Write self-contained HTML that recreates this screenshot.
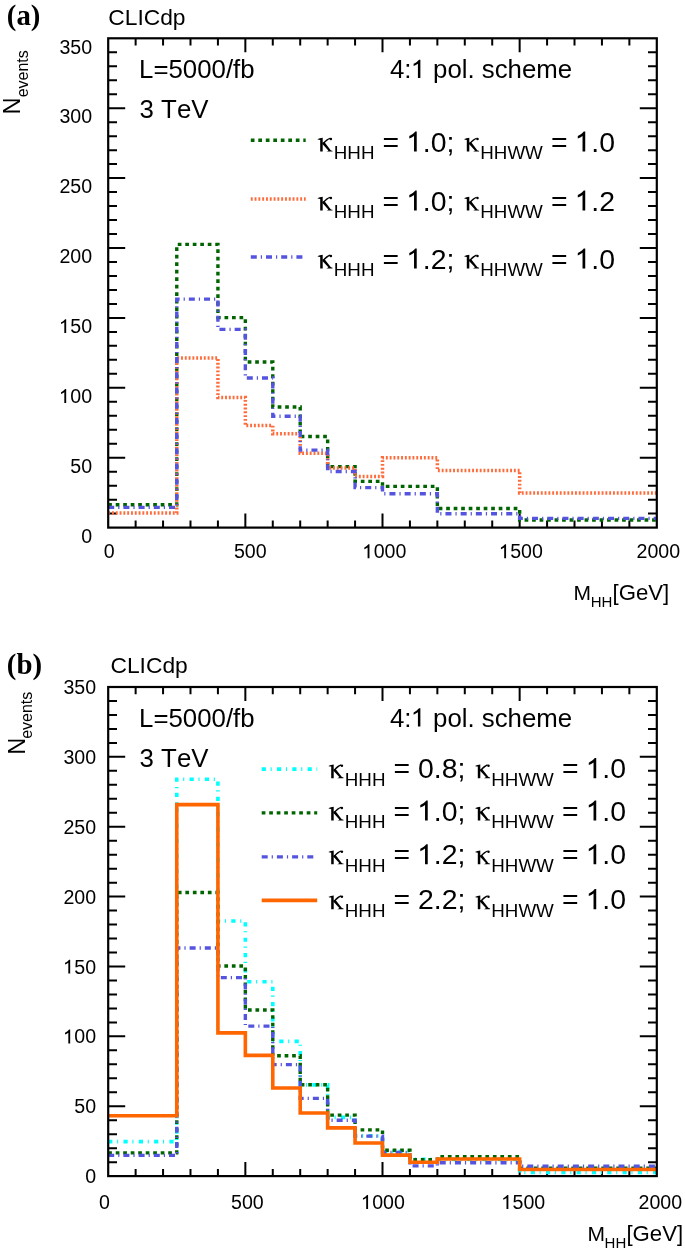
<!DOCTYPE html>
<html><head><meta charset="utf-8"><style>
html,body{margin:0;padding:0;background:#fff;}
svg{display:block;will-change:transform;filter:blur(0.35px);}
text{font-family:"Liberation Sans",sans-serif;fill:#000;font-kerning:none;}
.tag{font-family:"Liberation Serif",serif;font-weight:bold;}
</style></head><body>
<svg width="685" height="1254" viewBox="0 0 685 1254">
<rect width="685" height="1254" fill="#fff"/>
<text x="6.83" y="25.20" style="font-size:28.80px" class="tag" >(a)</text>
<text x="108.24" y="24.80" style="font-size:22.80px" >CLICdp</text>
<text transform="translate(20.30,114.40) rotate(-90)" style="font-size:23.6px">N<tspan style="font-size:16px" dx="0.00" dy="7.20">events</tspan></text>
<text x="139.08" y="78.10" style="font-size:25.80px" >L=5000/fb</text>
<text x="139.62" y="118.30" style="font-size:25.80px" >3 TeV</text>
<text x="390.01" y="77.90" style="font-size:25.80px" >4:  pol. scheme</text>
<path transform="translate(411.52,77.90) scale(25.800)" d="M0.343,0 L0.343,-0.708 L0.292,-0.708 C0.245,-0.655 0.17,-0.59 0.081,-0.548 L0.081,-0.462 C0.14,-0.485 0.2,-0.515 0.248,-0.552 L0.248,0 Z"/>
<path d="M135.63 527.60v-7.20 M135.63 38.30v7.20 M163.06 527.60v-7.20 M163.06 38.30v7.20 M190.49 527.60v-7.20 M190.49 38.30v7.20 M217.92 527.60v-7.20 M217.92 38.30v7.20 M245.35 527.60v-14.00 M245.35 38.30v14.00 M272.78 527.60v-7.20 M272.78 38.30v7.20 M300.21 527.60v-7.20 M300.21 38.30v7.20 M327.64 527.60v-7.20 M327.64 38.30v7.20 M355.07 527.60v-7.20 M355.07 38.30v7.20 M382.50 527.60v-14.00 M382.50 38.30v14.00 M409.93 527.60v-7.20 M409.93 38.30v7.20 M437.36 527.60v-7.20 M437.36 38.30v7.20 M464.79 527.60v-7.20 M464.79 38.30v7.20 M492.22 527.60v-7.20 M492.22 38.30v7.20 M519.65 527.60v-14.00 M519.65 38.30v14.00 M547.08 527.60v-7.20 M547.08 38.30v7.20 M574.51 527.60v-7.20 M574.51 38.30v7.20 M601.94 527.60v-7.20 M601.94 38.30v7.20 M629.37 527.60v-7.20 M629.37 38.30v7.20 M108.20 513.62h8.80 M656.80 513.62h-8.80 M108.20 499.64h8.80 M656.80 499.64h-8.80 M108.20 485.66h8.80 M656.80 485.66h-8.80 M108.20 471.68h8.80 M656.80 471.68h-8.80 M108.20 457.70h17.00 M656.80 457.70h-17.00 M108.20 443.72h8.80 M656.80 443.72h-8.80 M108.20 429.74h8.80 M656.80 429.74h-8.80 M108.20 415.76h8.80 M656.80 415.76h-8.80 M108.20 401.78h8.80 M656.80 401.78h-8.80 M108.20 387.80h17.00 M656.80 387.80h-17.00 M108.20 373.82h8.80 M656.80 373.82h-8.80 M108.20 359.84h8.80 M656.80 359.84h-8.80 M108.20 345.86h8.80 M656.80 345.86h-8.80 M108.20 331.88h8.80 M656.80 331.88h-8.80 M108.20 317.90h17.00 M656.80 317.90h-17.00 M108.20 303.92h8.80 M656.80 303.92h-8.80 M108.20 289.94h8.80 M656.80 289.94h-8.80 M108.20 275.96h8.80 M656.80 275.96h-8.80 M108.20 261.98h8.80 M656.80 261.98h-8.80 M108.20 248.00h17.00 M656.80 248.00h-17.00 M108.20 234.02h8.80 M656.80 234.02h-8.80 M108.20 220.04h8.80 M656.80 220.04h-8.80 M108.20 206.06h8.80 M656.80 206.06h-8.80 M108.20 192.08h8.80 M656.80 192.08h-8.80 M108.20 178.10h17.00 M656.80 178.10h-17.00 M108.20 164.12h8.80 M656.80 164.12h-8.80 M108.20 150.14h8.80 M656.80 150.14h-8.80 M108.20 136.16h8.80 M656.80 136.16h-8.80 M108.20 122.18h8.80 M656.80 122.18h-8.80 M108.20 108.20h17.00 M656.80 108.20h-17.00 M108.20 94.22h8.80 M656.80 94.22h-8.80 M108.20 80.24h8.80 M656.80 80.24h-8.80 M108.20 66.26h8.80 M656.80 66.26h-8.80 M108.20 52.28h8.80 M656.80 52.28h-8.80" stroke="#000" stroke-width="2.0" fill="none"/>
<path d="M108.20 504.81 L176.77 504.81 L176.77 244.37 L217.92 244.37 L217.92 317.62 L245.35 317.62 L245.35 361.94 L272.78 361.94 L272.78 406.95 L300.21 406.95 L300.21 436.45 L327.64 436.45 L327.64 466.65 L355.07 466.65 L355.07 481.33 L382.50 481.33 L382.50 486.36 L437.36 486.36 L437.36 508.45 L519.65 508.45 L519.65 520.05 L656.80 520.05" fill="none" stroke="#006400" stroke-width="3.40" stroke-dasharray="3.7 3.8"/>
<path d="M108.20 513.06 L176.77 513.06 L176.77 357.88 L217.92 357.88 L217.92 397.45 L245.35 397.45 L245.35 425.55 L272.78 425.55 L272.78 433.65 L300.21 433.65 L300.21 453.37 L327.64 453.37 L327.64 468.05 L355.07 468.05 L355.07 476.43 L382.50 476.43 L382.50 457.84 L437.36 457.84 L437.36 470.42 L519.65 470.42 L519.65 492.93 L656.80 492.93" fill="none" stroke="#ff6c3c" stroke-width="3.50" stroke-dasharray="1.9 1.9"/>
<path d="M108.20 507.33 L176.77 507.33 L176.77 299.17 L217.92 299.17 L217.92 329.36 L245.35 329.36 L245.35 378.01 L272.78 378.01 L272.78 416.18 L300.21 416.18 L300.21 450.15 L327.64 450.15 L327.64 471.54 L355.07 471.54 L355.07 487.62 L382.50 487.62 L382.50 493.77 L437.36 493.77 L437.36 513.76 L519.65 513.76 L519.65 518.37 L656.80 518.37" fill="none" stroke="#5454de" stroke-width="3.40" stroke-dasharray="6.0 4.0 1.2 4.0"/>
<rect x="108.20" y="38.30" width="548.60" height="489.30" fill="none" stroke="#000" stroke-width="2.2"/>
<text x="81.27" y="542.80" style="font-size:19.60px" >0</text>
<text x="70.36" y="472.90" style="font-size:19.60px" >50</text>
<text x="59.46" y="403.00" style="font-size:19.60px" > 00</text>
<path transform="translate(59.46,403.00) scale(19.600)" d="M0.343,0 L0.343,-0.708 L0.292,-0.708 C0.245,-0.655 0.17,-0.59 0.081,-0.548 L0.081,-0.462 C0.14,-0.485 0.2,-0.515 0.248,-0.552 L0.248,0 Z"/>
<text x="59.46" y="333.10" style="font-size:19.60px" > 50</text>
<path transform="translate(59.46,333.10) scale(19.600)" d="M0.343,0 L0.343,-0.708 L0.292,-0.708 C0.245,-0.655 0.17,-0.59 0.081,-0.548 L0.081,-0.462 C0.14,-0.485 0.2,-0.515 0.248,-0.552 L0.248,0 Z"/>
<text x="59.46" y="263.20" style="font-size:19.60px" >200</text>
<text x="59.46" y="193.30" style="font-size:19.60px" >250</text>
<text x="59.46" y="123.40" style="font-size:19.60px" >300</text>
<text x="59.46" y="53.50" style="font-size:19.60px" >350</text>
<text x="103.75" y="558.20" style="font-size:19.60px" >0</text>
<text x="233.94" y="558.20" style="font-size:19.60px" >500</text>
<text x="362.74" y="558.20" style="font-size:19.60px" > 000</text>
<path transform="translate(362.74,558.20) scale(19.600)" d="M0.343,0 L0.343,-0.708 L0.292,-0.708 C0.245,-0.655 0.17,-0.59 0.081,-0.548 L0.081,-0.462 C0.14,-0.485 0.2,-0.515 0.248,-0.552 L0.248,0 Z"/>
<text x="499.34" y="558.20" style="font-size:19.60px" > 500</text>
<path transform="translate(499.34,558.20) scale(19.600)" d="M0.343,0 L0.343,-0.708 L0.292,-0.708 C0.245,-0.655 0.17,-0.59 0.081,-0.548 L0.081,-0.462 C0.14,-0.485 0.2,-0.515 0.248,-0.552 L0.248,0 Z"/>
<text x="636.49" y="558.20" style="font-size:19.60px" >2000</text>
<text x="573.58" y="599.90" style="font-size:21.00px" >M</text>
<text x="590.67" y="607.10" style="font-size:15.00px" >HH</text>
<text x="612.52" y="599.90" style="font-size:22.20px" >[GeV]</text>
<path d="M250.80 140.30H305.70" fill="none" stroke="#006400" stroke-width="3.40" stroke-dasharray="3.7 3.8"/>
<g transform="translate(317.40,151.60)"><path d="M0,-12.3 C1.3,-13.0 3.6,-13.7 5.3,-13.8 L5.3,0 L2.8,0 L2.8,-11.6 C1.9,-11.8 0.9,-12.0 0,-12.3 Z"/><path d="M5.3,-9.3 L7.2,-9.3 L13.3,-1.4 C14.0,-1.1 14.6,-0.9 15.1,-0.8 L15.1,0 L8.9,0 C9.7,-0.3 10.4,-0.7 10.9,-1.2 L5.3,-7.3 Z"/><path d="M5.3,-7.4 C7.4,-9.8 9.7,-12.5 12.6,-13.2" fill="none" stroke="#000" stroke-width="1.4"/><circle cx="13.5" cy="-12.5" r="1.25"/></g>
<text x="333.76" y="159.20" style="font-size:18.80px" >HHH</text>
<text x="382.51" y="151.60" style="font-size:28.40px" >=  .0;</text>
<path transform="translate(406.99,151.60) scale(28.400)" d="M0.343,0 L0.343,-0.708 L0.292,-0.708 C0.245,-0.655 0.17,-0.59 0.081,-0.548 L0.081,-0.462 C0.14,-0.485 0.2,-0.515 0.248,-0.552 L0.248,0 Z"/>
<g transform="translate(464.00,151.60)"><path d="M0,-12.3 C1.3,-13.0 3.6,-13.7 5.3,-13.8 L5.3,0 L2.8,0 L2.8,-11.6 C1.9,-11.8 0.9,-12.0 0,-12.3 Z"/><path d="M5.3,-9.3 L7.2,-9.3 L13.3,-1.4 C14.0,-1.1 14.6,-0.9 15.1,-0.8 L15.1,0 L8.9,0 C9.7,-0.3 10.4,-0.7 10.9,-1.2 L5.3,-7.3 Z"/><path d="M5.3,-7.4 C7.4,-9.8 9.7,-12.5 12.6,-13.2" fill="none" stroke="#000" stroke-width="1.4"/><circle cx="13.5" cy="-12.5" r="1.25"/></g>
<text x="480.26" y="159.20" style="font-size:18.80px" >HHWW</text>
<text x="551.01" y="151.60" style="font-size:28.40px" >=  .0</text>
<path transform="translate(575.49,151.60) scale(28.400)" d="M0.343,0 L0.343,-0.708 L0.292,-0.708 C0.245,-0.655 0.17,-0.59 0.081,-0.548 L0.081,-0.462 C0.14,-0.485 0.2,-0.515 0.248,-0.552 L0.248,0 Z"/>
<path d="M250.80 198.90H305.70" fill="none" stroke="#ff6c3c" stroke-width="3.50" stroke-dasharray="1.9 1.9"/>
<g transform="translate(317.40,210.60)"><path d="M0,-12.3 C1.3,-13.0 3.6,-13.7 5.3,-13.8 L5.3,0 L2.8,0 L2.8,-11.6 C1.9,-11.8 0.9,-12.0 0,-12.3 Z"/><path d="M5.3,-9.3 L7.2,-9.3 L13.3,-1.4 C14.0,-1.1 14.6,-0.9 15.1,-0.8 L15.1,0 L8.9,0 C9.7,-0.3 10.4,-0.7 10.9,-1.2 L5.3,-7.3 Z"/><path d="M5.3,-7.4 C7.4,-9.8 9.7,-12.5 12.6,-13.2" fill="none" stroke="#000" stroke-width="1.4"/><circle cx="13.5" cy="-12.5" r="1.25"/></g>
<text x="333.76" y="218.20" style="font-size:18.80px" >HHH</text>
<text x="382.51" y="210.60" style="font-size:28.40px" >=  .0;</text>
<path transform="translate(406.99,210.60) scale(28.400)" d="M0.343,0 L0.343,-0.708 L0.292,-0.708 C0.245,-0.655 0.17,-0.59 0.081,-0.548 L0.081,-0.462 C0.14,-0.485 0.2,-0.515 0.248,-0.552 L0.248,0 Z"/>
<g transform="translate(464.00,210.60)"><path d="M0,-12.3 C1.3,-13.0 3.6,-13.7 5.3,-13.8 L5.3,0 L2.8,0 L2.8,-11.6 C1.9,-11.8 0.9,-12.0 0,-12.3 Z"/><path d="M5.3,-9.3 L7.2,-9.3 L13.3,-1.4 C14.0,-1.1 14.6,-0.9 15.1,-0.8 L15.1,0 L8.9,0 C9.7,-0.3 10.4,-0.7 10.9,-1.2 L5.3,-7.3 Z"/><path d="M5.3,-7.4 C7.4,-9.8 9.7,-12.5 12.6,-13.2" fill="none" stroke="#000" stroke-width="1.4"/><circle cx="13.5" cy="-12.5" r="1.25"/></g>
<text x="480.26" y="218.20" style="font-size:18.80px" >HHWW</text>
<text x="551.01" y="210.60" style="font-size:28.40px" >=  .2</text>
<path transform="translate(575.49,210.60) scale(28.400)" d="M0.343,0 L0.343,-0.708 L0.292,-0.708 C0.245,-0.655 0.17,-0.59 0.081,-0.548 L0.081,-0.462 C0.14,-0.485 0.2,-0.515 0.248,-0.552 L0.248,0 Z"/>
<path d="M250.80 257.00H305.70" fill="none" stroke="#5454de" stroke-width="3.40" stroke-dasharray="6.0 4.0 1.2 4.0"/>
<g transform="translate(317.40,268.50)"><path d="M0,-12.3 C1.3,-13.0 3.6,-13.7 5.3,-13.8 L5.3,0 L2.8,0 L2.8,-11.6 C1.9,-11.8 0.9,-12.0 0,-12.3 Z"/><path d="M5.3,-9.3 L7.2,-9.3 L13.3,-1.4 C14.0,-1.1 14.6,-0.9 15.1,-0.8 L15.1,0 L8.9,0 C9.7,-0.3 10.4,-0.7 10.9,-1.2 L5.3,-7.3 Z"/><path d="M5.3,-7.4 C7.4,-9.8 9.7,-12.5 12.6,-13.2" fill="none" stroke="#000" stroke-width="1.4"/><circle cx="13.5" cy="-12.5" r="1.25"/></g>
<text x="333.76" y="276.10" style="font-size:18.80px" >HHH</text>
<text x="382.51" y="268.50" style="font-size:28.40px" >=  .2;</text>
<path transform="translate(406.99,268.50) scale(28.400)" d="M0.343,0 L0.343,-0.708 L0.292,-0.708 C0.245,-0.655 0.17,-0.59 0.081,-0.548 L0.081,-0.462 C0.14,-0.485 0.2,-0.515 0.248,-0.552 L0.248,0 Z"/>
<g transform="translate(464.00,268.50)"><path d="M0,-12.3 C1.3,-13.0 3.6,-13.7 5.3,-13.8 L5.3,0 L2.8,0 L2.8,-11.6 C1.9,-11.8 0.9,-12.0 0,-12.3 Z"/><path d="M5.3,-9.3 L7.2,-9.3 L13.3,-1.4 C14.0,-1.1 14.6,-0.9 15.1,-0.8 L15.1,0 L8.9,0 C9.7,-0.3 10.4,-0.7 10.9,-1.2 L5.3,-7.3 Z"/><path d="M5.3,-7.4 C7.4,-9.8 9.7,-12.5 12.6,-13.2" fill="none" stroke="#000" stroke-width="1.4"/><circle cx="13.5" cy="-12.5" r="1.25"/></g>
<text x="480.26" y="276.10" style="font-size:18.80px" >HHWW</text>
<text x="551.01" y="268.50" style="font-size:28.40px" >=  .0</text>
<path transform="translate(575.49,268.50) scale(28.400)" d="M0.343,0 L0.343,-0.708 L0.292,-0.708 C0.245,-0.655 0.17,-0.59 0.081,-0.548 L0.081,-0.462 C0.14,-0.485 0.2,-0.515 0.248,-0.552 L0.248,0 Z"/>
<text x="6.83" y="673.80" style="font-size:28.80px" class="tag" >(b)</text>
<text x="110.44" y="673.10" style="font-size:22.80px" >CLICdp</text>
<text transform="translate(24.80,754.70) rotate(-90)" style="font-size:23.6px">N<tspan style="font-size:16px" dx="-1.20" dy="7.50">events</tspan></text>
<text x="139.08" y="726.80" style="font-size:25.80px" >L=5000/fb</text>
<text x="139.62" y="767.00" style="font-size:25.80px" >3 TeV</text>
<text x="390.01" y="726.60" style="font-size:25.80px" >4:  pol. scheme</text>
<path transform="translate(411.52,726.60) scale(25.800)" d="M0.343,0 L0.343,-0.708 L0.292,-0.708 C0.245,-0.655 0.17,-0.59 0.081,-0.548 L0.081,-0.462 C0.14,-0.485 0.2,-0.515 0.248,-0.552 L0.248,0 Z"/>
<path d="M135.63 1176.10v-7.20 M135.63 687.00v7.20 M163.06 1176.10v-7.20 M163.06 687.00v7.20 M190.49 1176.10v-7.20 M190.49 687.00v7.20 M217.92 1176.10v-7.20 M217.92 687.00v7.20 M245.35 1176.10v-14.00 M245.35 687.00v14.00 M272.78 1176.10v-7.20 M272.78 687.00v7.20 M300.21 1176.10v-7.20 M300.21 687.00v7.20 M327.64 1176.10v-7.20 M327.64 687.00v7.20 M355.07 1176.10v-7.20 M355.07 687.00v7.20 M382.50 1176.10v-14.00 M382.50 687.00v14.00 M409.93 1176.10v-7.20 M409.93 687.00v7.20 M437.36 1176.10v-7.20 M437.36 687.00v7.20 M464.79 1176.10v-7.20 M464.79 687.00v7.20 M492.22 1176.10v-7.20 M492.22 687.00v7.20 M519.65 1176.10v-14.00 M519.65 687.00v14.00 M547.08 1176.10v-7.20 M547.08 687.00v7.20 M574.51 1176.10v-7.20 M574.51 687.00v7.20 M601.94 1176.10v-7.20 M601.94 687.00v7.20 M629.37 1176.10v-7.20 M629.37 687.00v7.20 M108.20 1162.13h8.80 M656.80 1162.13h-8.80 M108.20 1148.15h8.80 M656.80 1148.15h-8.80 M108.20 1134.18h8.80 M656.80 1134.18h-8.80 M108.20 1120.20h8.80 M656.80 1120.20h-8.80 M108.20 1106.23h17.00 M656.80 1106.23h-17.00 M108.20 1092.25h8.80 M656.80 1092.25h-8.80 M108.20 1078.28h8.80 M656.80 1078.28h-8.80 M108.20 1064.31h8.80 M656.80 1064.31h-8.80 M108.20 1050.33h8.80 M656.80 1050.33h-8.80 M108.20 1036.36h17.00 M656.80 1036.36h-17.00 M108.20 1022.38h8.80 M656.80 1022.38h-8.80 M108.20 1008.41h8.80 M656.80 1008.41h-8.80 M108.20 994.43h8.80 M656.80 994.43h-8.80 M108.20 980.46h8.80 M656.80 980.46h-8.80 M108.20 966.49h17.00 M656.80 966.49h-17.00 M108.20 952.51h8.80 M656.80 952.51h-8.80 M108.20 938.54h8.80 M656.80 938.54h-8.80 M108.20 924.56h8.80 M656.80 924.56h-8.80 M108.20 910.59h8.80 M656.80 910.59h-8.80 M108.20 896.61h17.00 M656.80 896.61h-17.00 M108.20 882.64h8.80 M656.80 882.64h-8.80 M108.20 868.67h8.80 M656.80 868.67h-8.80 M108.20 854.69h8.80 M656.80 854.69h-8.80 M108.20 840.72h8.80 M656.80 840.72h-8.80 M108.20 826.74h17.00 M656.80 826.74h-17.00 M108.20 812.77h8.80 M656.80 812.77h-8.80 M108.20 798.79h8.80 M656.80 798.79h-8.80 M108.20 784.82h8.80 M656.80 784.82h-8.80 M108.20 770.85h8.80 M656.80 770.85h-8.80 M108.20 756.87h17.00 M656.80 756.87h-17.00 M108.20 742.90h8.80 M656.80 742.90h-8.80 M108.20 728.92h8.80 M656.80 728.92h-8.80 M108.20 714.95h8.80 M656.80 714.95h-8.80 M108.20 700.97h8.80 M656.80 700.97h-8.80" stroke="#000" stroke-width="2.0" fill="none"/>
<path d="M108.20 1141.58 L176.77 1141.58 L176.77 779.23 L217.92 779.23 L217.92 921.07 L245.35 921.07 L245.35 981.72 L272.78 981.72 L272.78 1041.39 L300.21 1041.39 L300.21 1084.85 L327.64 1084.85 L327.64 1117.41 L355.07 1117.41 L355.07 1135.85 L382.50 1135.85 L382.50 1151.64 L409.93 1151.64 L409.93 1159.33 L437.36 1159.33 L437.36 1159.33 L519.65 1159.33 L519.65 1172.47 L656.80 1172.47" fill="none" stroke="#00ffff" stroke-width="3.60" stroke-dasharray="4.2 4.7 1.1 5.3"/>
<path d="M108.20 1152.90 L176.77 1152.90 L176.77 892.56 L217.92 892.56 L217.92 966.07 L245.35 966.07 L245.35 1009.95 L272.78 1009.95 L272.78 1055.78 L300.21 1055.78 L300.21 1084.71 L327.64 1084.71 L327.64 1115.17 L355.07 1115.17 L355.07 1129.85 L382.50 1129.85 L382.50 1150.25 L409.93 1150.25 L409.93 1159.61 L437.36 1159.61 L437.36 1156.68 L519.65 1156.68 L519.65 1168.27 L656.80 1168.27" fill="none" stroke="#006400" stroke-width="3.40" stroke-dasharray="3.7 3.8"/>
<path d="M108.20 1155.42 L176.77 1155.42 L176.77 948.04 L217.92 948.04 L217.92 977.67 L245.35 977.67 L245.35 1026.16 L272.78 1026.16 L272.78 1064.59 L300.21 1064.59 L300.21 1098.40 L327.64 1098.40 L327.64 1120.20 L355.07 1120.20 L355.07 1136.13 L382.50 1136.13 L382.50 1152.48 L409.93 1152.48 L409.93 1165.90 L437.36 1165.90 L437.36 1162.68 L519.65 1162.68 L519.65 1166.32 L656.80 1166.32" fill="none" stroke="#5454de" stroke-width="3.40" stroke-dasharray="6.0 4.0 1.2 4.0"/>
<path d="M108.20 1115.73 L176.77 1115.73 L176.77 804.66 L217.92 804.66 L217.92 1032.86 L245.35 1032.86 L245.35 1055.36 L272.78 1055.36 L272.78 1088.06 L300.21 1088.06 L300.21 1112.94 L327.64 1112.94 L327.64 1127.89 L355.07 1127.89 L355.07 1142.98 L382.50 1142.98 L382.50 1155.14 L409.93 1155.14 L409.93 1162.27 L437.36 1162.27 L437.36 1159.05 L519.65 1159.05 L519.65 1169.53 L656.80 1169.53" fill="none" stroke="#ff6600" stroke-width="3.60"/>
<rect x="108.20" y="687.00" width="548.60" height="489.10" fill="none" stroke="#000" stroke-width="2.2"/>
<text x="85.27" y="1183.20" style="font-size:19.60px" >0</text>
<text x="74.36" y="1113.33" style="font-size:19.60px" >50</text>
<text x="63.46" y="1043.46" style="font-size:19.60px" > 00</text>
<path transform="translate(63.46,1043.46) scale(19.600)" d="M0.343,0 L0.343,-0.708 L0.292,-0.708 C0.245,-0.655 0.17,-0.59 0.081,-0.548 L0.081,-0.462 C0.14,-0.485 0.2,-0.515 0.248,-0.552 L0.248,0 Z"/>
<text x="63.46" y="973.59" style="font-size:19.60px" > 50</text>
<path transform="translate(63.46,973.59) scale(19.600)" d="M0.343,0 L0.343,-0.708 L0.292,-0.708 C0.245,-0.655 0.17,-0.59 0.081,-0.548 L0.081,-0.462 C0.14,-0.485 0.2,-0.515 0.248,-0.552 L0.248,0 Z"/>
<text x="63.46" y="903.71" style="font-size:19.60px" >200</text>
<text x="63.46" y="833.84" style="font-size:19.60px" >250</text>
<text x="63.46" y="763.97" style="font-size:19.60px" >300</text>
<text x="63.46" y="694.10" style="font-size:19.60px" >350</text>
<text x="99.05" y="1208.90" style="font-size:19.60px" >0</text>
<text x="231.04" y="1208.90" style="font-size:19.60px" >500</text>
<text x="361.34" y="1208.90" style="font-size:19.60px" > 000</text>
<path transform="translate(361.34,1208.90) scale(19.600)" d="M0.343,0 L0.343,-0.708 L0.292,-0.708 C0.245,-0.655 0.17,-0.59 0.081,-0.548 L0.081,-0.462 C0.14,-0.485 0.2,-0.515 0.248,-0.552 L0.248,0 Z"/>
<text x="501.64" y="1208.90" style="font-size:19.60px" > 500</text>
<path transform="translate(501.64,1208.90) scale(19.600)" d="M0.343,0 L0.343,-0.708 L0.292,-0.708 C0.245,-0.655 0.17,-0.59 0.081,-0.548 L0.081,-0.462 C0.14,-0.485 0.2,-0.515 0.248,-0.552 L0.248,0 Z"/>
<text x="638.59" y="1208.90" style="font-size:19.60px" >2000</text>
<text x="587.48" y="1240.80" style="font-size:21.00px" >M</text>
<text x="604.57" y="1248.00" style="font-size:15.00px" >HH</text>
<text x="626.42" y="1240.80" style="font-size:22.20px" >[GeV]</text>
<path d="M261.70 769.10H317.20" fill="none" stroke="#00ffff" stroke-width="3.60" stroke-dasharray="4.2 4.7 1.1 5.3"/>
<g transform="translate(328.40,778.20)"><path d="M0,-12.3 C1.3,-13.0 3.6,-13.7 5.3,-13.8 L5.3,0 L2.8,0 L2.8,-11.6 C1.9,-11.8 0.9,-12.0 0,-12.3 Z"/><path d="M5.3,-9.3 L7.2,-9.3 L13.3,-1.4 C14.0,-1.1 14.6,-0.9 15.1,-0.8 L15.1,0 L8.9,0 C9.7,-0.3 10.4,-0.7 10.9,-1.2 L5.3,-7.3 Z"/><path d="M5.3,-7.4 C7.4,-9.8 9.7,-12.5 12.6,-13.2" fill="none" stroke="#000" stroke-width="1.4"/><circle cx="13.5" cy="-12.5" r="1.25"/></g>
<text x="344.76" y="785.80" style="font-size:18.80px" >HHH</text>
<text x="393.51" y="778.20" style="font-size:28.40px" >= 0.8;</text>
<g transform="translate(475.00,778.20)"><path d="M0,-12.3 C1.3,-13.0 3.6,-13.7 5.3,-13.8 L5.3,0 L2.8,0 L2.8,-11.6 C1.9,-11.8 0.9,-12.0 0,-12.3 Z"/><path d="M5.3,-9.3 L7.2,-9.3 L13.3,-1.4 C14.0,-1.1 14.6,-0.9 15.1,-0.8 L15.1,0 L8.9,0 C9.7,-0.3 10.4,-0.7 10.9,-1.2 L5.3,-7.3 Z"/><path d="M5.3,-7.4 C7.4,-9.8 9.7,-12.5 12.6,-13.2" fill="none" stroke="#000" stroke-width="1.4"/><circle cx="13.5" cy="-12.5" r="1.25"/></g>
<text x="491.26" y="785.80" style="font-size:18.80px" >HHWW</text>
<text x="562.01" y="778.20" style="font-size:28.40px" >=  .0</text>
<path transform="translate(586.49,778.20) scale(28.400)" d="M0.343,0 L0.343,-0.708 L0.292,-0.708 C0.245,-0.655 0.17,-0.59 0.081,-0.548 L0.081,-0.462 C0.14,-0.485 0.2,-0.515 0.248,-0.552 L0.248,0 Z"/>
<path d="M261.70 812.90H317.20" fill="none" stroke="#006400" stroke-width="3.40" stroke-dasharray="3.7 3.8"/>
<g transform="translate(328.40,820.60)"><path d="M0,-12.3 C1.3,-13.0 3.6,-13.7 5.3,-13.8 L5.3,0 L2.8,0 L2.8,-11.6 C1.9,-11.8 0.9,-12.0 0,-12.3 Z"/><path d="M5.3,-9.3 L7.2,-9.3 L13.3,-1.4 C14.0,-1.1 14.6,-0.9 15.1,-0.8 L15.1,0 L8.9,0 C9.7,-0.3 10.4,-0.7 10.9,-1.2 L5.3,-7.3 Z"/><path d="M5.3,-7.4 C7.4,-9.8 9.7,-12.5 12.6,-13.2" fill="none" stroke="#000" stroke-width="1.4"/><circle cx="13.5" cy="-12.5" r="1.25"/></g>
<text x="344.76" y="828.20" style="font-size:18.80px" >HHH</text>
<text x="393.51" y="820.60" style="font-size:28.40px" >=  .0;</text>
<path transform="translate(417.99,820.60) scale(28.400)" d="M0.343,0 L0.343,-0.708 L0.292,-0.708 C0.245,-0.655 0.17,-0.59 0.081,-0.548 L0.081,-0.462 C0.14,-0.485 0.2,-0.515 0.248,-0.552 L0.248,0 Z"/>
<g transform="translate(475.00,820.60)"><path d="M0,-12.3 C1.3,-13.0 3.6,-13.7 5.3,-13.8 L5.3,0 L2.8,0 L2.8,-11.6 C1.9,-11.8 0.9,-12.0 0,-12.3 Z"/><path d="M5.3,-9.3 L7.2,-9.3 L13.3,-1.4 C14.0,-1.1 14.6,-0.9 15.1,-0.8 L15.1,0 L8.9,0 C9.7,-0.3 10.4,-0.7 10.9,-1.2 L5.3,-7.3 Z"/><path d="M5.3,-7.4 C7.4,-9.8 9.7,-12.5 12.6,-13.2" fill="none" stroke="#000" stroke-width="1.4"/><circle cx="13.5" cy="-12.5" r="1.25"/></g>
<text x="491.26" y="828.20" style="font-size:18.80px" >HHWW</text>
<text x="562.01" y="820.60" style="font-size:28.40px" >=  .0</text>
<path transform="translate(586.49,820.60) scale(28.400)" d="M0.343,0 L0.343,-0.708 L0.292,-0.708 C0.245,-0.655 0.17,-0.59 0.081,-0.548 L0.081,-0.462 C0.14,-0.485 0.2,-0.515 0.248,-0.552 L0.248,0 Z"/>
<path d="M261.70 856.90H317.20" fill="none" stroke="#5454de" stroke-width="3.40" stroke-dasharray="6.0 4.0 1.2 4.0"/>
<g transform="translate(328.40,864.30)"><path d="M0,-12.3 C1.3,-13.0 3.6,-13.7 5.3,-13.8 L5.3,0 L2.8,0 L2.8,-11.6 C1.9,-11.8 0.9,-12.0 0,-12.3 Z"/><path d="M5.3,-9.3 L7.2,-9.3 L13.3,-1.4 C14.0,-1.1 14.6,-0.9 15.1,-0.8 L15.1,0 L8.9,0 C9.7,-0.3 10.4,-0.7 10.9,-1.2 L5.3,-7.3 Z"/><path d="M5.3,-7.4 C7.4,-9.8 9.7,-12.5 12.6,-13.2" fill="none" stroke="#000" stroke-width="1.4"/><circle cx="13.5" cy="-12.5" r="1.25"/></g>
<text x="344.76" y="871.90" style="font-size:18.80px" >HHH</text>
<text x="393.51" y="864.30" style="font-size:28.40px" >=  .2;</text>
<path transform="translate(417.99,864.30) scale(28.400)" d="M0.343,0 L0.343,-0.708 L0.292,-0.708 C0.245,-0.655 0.17,-0.59 0.081,-0.548 L0.081,-0.462 C0.14,-0.485 0.2,-0.515 0.248,-0.552 L0.248,0 Z"/>
<g transform="translate(475.00,864.30)"><path d="M0,-12.3 C1.3,-13.0 3.6,-13.7 5.3,-13.8 L5.3,0 L2.8,0 L2.8,-11.6 C1.9,-11.8 0.9,-12.0 0,-12.3 Z"/><path d="M5.3,-9.3 L7.2,-9.3 L13.3,-1.4 C14.0,-1.1 14.6,-0.9 15.1,-0.8 L15.1,0 L8.9,0 C9.7,-0.3 10.4,-0.7 10.9,-1.2 L5.3,-7.3 Z"/><path d="M5.3,-7.4 C7.4,-9.8 9.7,-12.5 12.6,-13.2" fill="none" stroke="#000" stroke-width="1.4"/><circle cx="13.5" cy="-12.5" r="1.25"/></g>
<text x="491.26" y="871.90" style="font-size:18.80px" >HHWW</text>
<text x="562.01" y="864.30" style="font-size:28.40px" >=  .0</text>
<path transform="translate(586.49,864.30) scale(28.400)" d="M0.343,0 L0.343,-0.708 L0.292,-0.708 C0.245,-0.655 0.17,-0.59 0.081,-0.548 L0.081,-0.462 C0.14,-0.485 0.2,-0.515 0.248,-0.552 L0.248,0 Z"/>
<path d="M261.70 900.40H317.20" fill="none" stroke="#ff6600" stroke-width="3.60"/>
<g transform="translate(328.40,909.20)"><path d="M0,-12.3 C1.3,-13.0 3.6,-13.7 5.3,-13.8 L5.3,0 L2.8,0 L2.8,-11.6 C1.9,-11.8 0.9,-12.0 0,-12.3 Z"/><path d="M5.3,-9.3 L7.2,-9.3 L13.3,-1.4 C14.0,-1.1 14.6,-0.9 15.1,-0.8 L15.1,0 L8.9,0 C9.7,-0.3 10.4,-0.7 10.9,-1.2 L5.3,-7.3 Z"/><path d="M5.3,-7.4 C7.4,-9.8 9.7,-12.5 12.6,-13.2" fill="none" stroke="#000" stroke-width="1.4"/><circle cx="13.5" cy="-12.5" r="1.25"/></g>
<text x="344.76" y="916.80" style="font-size:18.80px" >HHH</text>
<text x="393.51" y="909.20" style="font-size:28.40px" >= 2.2;</text>
<g transform="translate(475.00,909.20)"><path d="M0,-12.3 C1.3,-13.0 3.6,-13.7 5.3,-13.8 L5.3,0 L2.8,0 L2.8,-11.6 C1.9,-11.8 0.9,-12.0 0,-12.3 Z"/><path d="M5.3,-9.3 L7.2,-9.3 L13.3,-1.4 C14.0,-1.1 14.6,-0.9 15.1,-0.8 L15.1,0 L8.9,0 C9.7,-0.3 10.4,-0.7 10.9,-1.2 L5.3,-7.3 Z"/><path d="M5.3,-7.4 C7.4,-9.8 9.7,-12.5 12.6,-13.2" fill="none" stroke="#000" stroke-width="1.4"/><circle cx="13.5" cy="-12.5" r="1.25"/></g>
<text x="491.26" y="916.80" style="font-size:18.80px" >HHWW</text>
<text x="562.01" y="909.20" style="font-size:28.40px" >=  .0</text>
<path transform="translate(586.49,909.20) scale(28.400)" d="M0.343,0 L0.343,-0.708 L0.292,-0.708 C0.245,-0.655 0.17,-0.59 0.081,-0.548 L0.081,-0.462 C0.14,-0.485 0.2,-0.515 0.248,-0.552 L0.248,0 Z"/>
</svg></body></html>
